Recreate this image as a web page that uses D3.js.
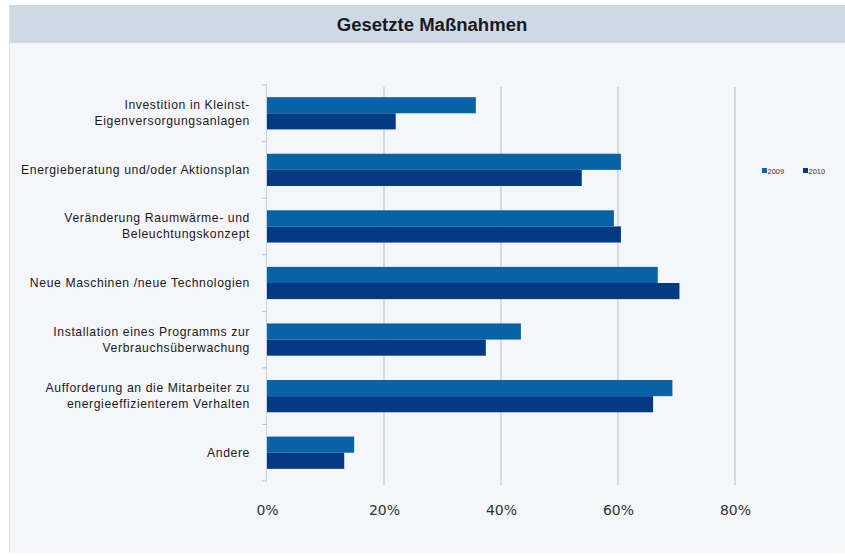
<!DOCTYPE html>
<html>
<head>
<meta charset="utf-8">
<script src="https://cdn.jsdelivr.net/npm/d3@7"></script>
<style>
  html, body { margin: 0; padding: 0; background: #ffffff; }
  svg { display: block; }
</style>
</head>
<body>
<svg id="chart" width="845" height="556"></svg>
<script>
// Measures taken, share of companies per year
const categories = [
  ["Investition in Kleinst-", "Eigenversorgungsanlagen"],
  ["Energieberatung und/oder Aktionsplan"],
  ["Veränderung Raumwärme- und", "Beleuchtungskonzept"],
  ["Neue Maschinen /neue Technologien"],
  ["Installation eines Programms zur", "Verbrauchsüberwachung"],
  ["Aufforderung an die Mitarbeiter zu", "energieeffizienterem Verhalten"],
  ["Andere"]
];
const years = ["2009", "2010"];
const values2009 = [0.357, 0.605, 0.593, 0.668, 0.434, 0.693, 0.149];
const values2010 = [0.220, 0.538, 0.605, 0.705, 0.374, 0.660, 0.132];
const xTicks = [0, 0.2, 0.4, 0.6, 0.8];
const title = "Gesetzte Maßnahmen";

const colors = { "2009": "#0763a6", "2010": "#033a82" };
const series = { "2009": values2009, "2010": values2010 };

const svg = d3.select("#chart");
const W = 845, H = 556;

// panel background, left border and title band
svg.append("rect").attr("x", 9).attr("y", 5).attr("width", W - 9).attr("height", 548)
  .attr("fill", "#f4f6fa");
svg.append("rect").attr("x", 9).attr("y", 5).attr("width", W - 9).attr("height", 38)
  .attr("fill", "#cfd9e5");
svg.append("line").attr("x1", 9.5).attr("x2", 9.5).attr("y1", 5).attr("y2", 553)
  .attr("stroke", "#dde1e8");
svg.append("text")
  .attr("transform", "translate(432,31) scale(1.03,1)")
  .attr("text-anchor", "middle")
  .attr("font-family", "'Liberation Sans', Arial, sans-serif")
  .attr("font-size", 18).attr("font-weight", "bold").attr("fill", "#1a1a1a")
  .text(title);

const margin = { left: 267, top: 85 };
const x = d3.scaleLinear().domain([0, 0.8]).range([margin.left, 735]);
const y = d3.scaleBand().domain(d3.range(categories.length))
  .range([margin.top, 481]).paddingInner(0.43).paddingOuter(0.215);
const ySub = d3.scaleBand().domain(years).range([0, y.bandwidth()]);

// vertical gridlines
svg.append("g").selectAll("line").data(xTicks.slice(1)).join("line")
  .attr("x1", d => x(d)).attr("x2", d => x(d))
  .attr("y1", margin.top + 2).attr("y2", 485)
  .attr("stroke", "#c3c6cc").attr("stroke-width", 1.2);

// bars
const groups = svg.append("g").selectAll("g").data(categories).join("g")
  .attr("transform", (d, i) => `translate(0,${y(i)})`);
groups.selectAll("rect").data((d, i) => years.map(yr => ({ yr, v: series[yr][i] }))).join("rect")
  .attr("x", x(0)).attr("y", d => ySub(d.yr))
  .attr("width", d => x(d.v) - x(0)).attr("height", ySub.bandwidth())
  .attr("fill", d => colors[d.yr]);

// category axis line and ticks
const step = y.step();
const boundaries = d3.range(categories.length + 1).map(i => margin.top + i * step);
svg.append("line").attr("x1", x(0) - 0.5).attr("x2", x(0) - 0.5)
  .attr("y1", margin.top).attr("y2", 481).attr("stroke", "#c9d1dd");
svg.append("g").selectAll("line").data(boundaries).join("line")
  .attr("x1", x(0) - 5).attr("x2", x(0))
  .attr("y1", d => d).attr("y2", d => d)
  .attr("stroke", "#b8c4d4");

// category labels, centred on each bar pair
const labelG = svg.append("g")
  .attr("font-family", "'Liberation Sans', Arial, sans-serif")
  .attr("font-size", 12.2).attr("fill", "#1a1a1a").attr("text-anchor", "end");
categories.forEach((lines, i) => {
  const cy = y(i) + y.bandwidth() / 2;
  const t = labelG.append("text").attr("x", 250).attr("y", cy).attr("letter-spacing", 0.6);
  const n = lines.length;
  lines.forEach((ln, j) => {
    t.append("tspan").attr("x", 250)
      .attr("y", cy + (j - (n - 1) / 2) * 16 + 4)
      .text(ln);
  });
});

// x axis labels
const xAxis = d3.axisBottom(x).tickValues(xTicks).tickFormat(d3.format(".0%")).tickSize(0).tickPadding(0);
const xg = svg.append("g").attr("transform", "translate(0,502)").call(xAxis);
xg.select(".domain").remove();
xg.selectAll("text")
  .attr("font-family", "'DejaVu Sans', Tahoma, sans-serif")
  .attr("font-size", 14).attr("fill", "#333").attr("dy", "0.9em");

// legend
const legend = svg.append("g").attr("transform", "translate(762,167)")
  .attr("font-family", "'Liberation Sans', Arial, sans-serif").attr("font-size", 7.5);
years.forEach((yr, i) => {
  const g = legend.append("g").attr("transform", `translate(${i * 41},0)`);
  g.append("rect").attr("x", 0).attr("y", 1).attr("width", 5).attr("height", 5).attr("fill", colors[yr]);
  g.append("text").attr("x", 5.5).attr("y", 6.5).attr("fill", "#333").text(yr);
});
</script>
</body>
</html>
